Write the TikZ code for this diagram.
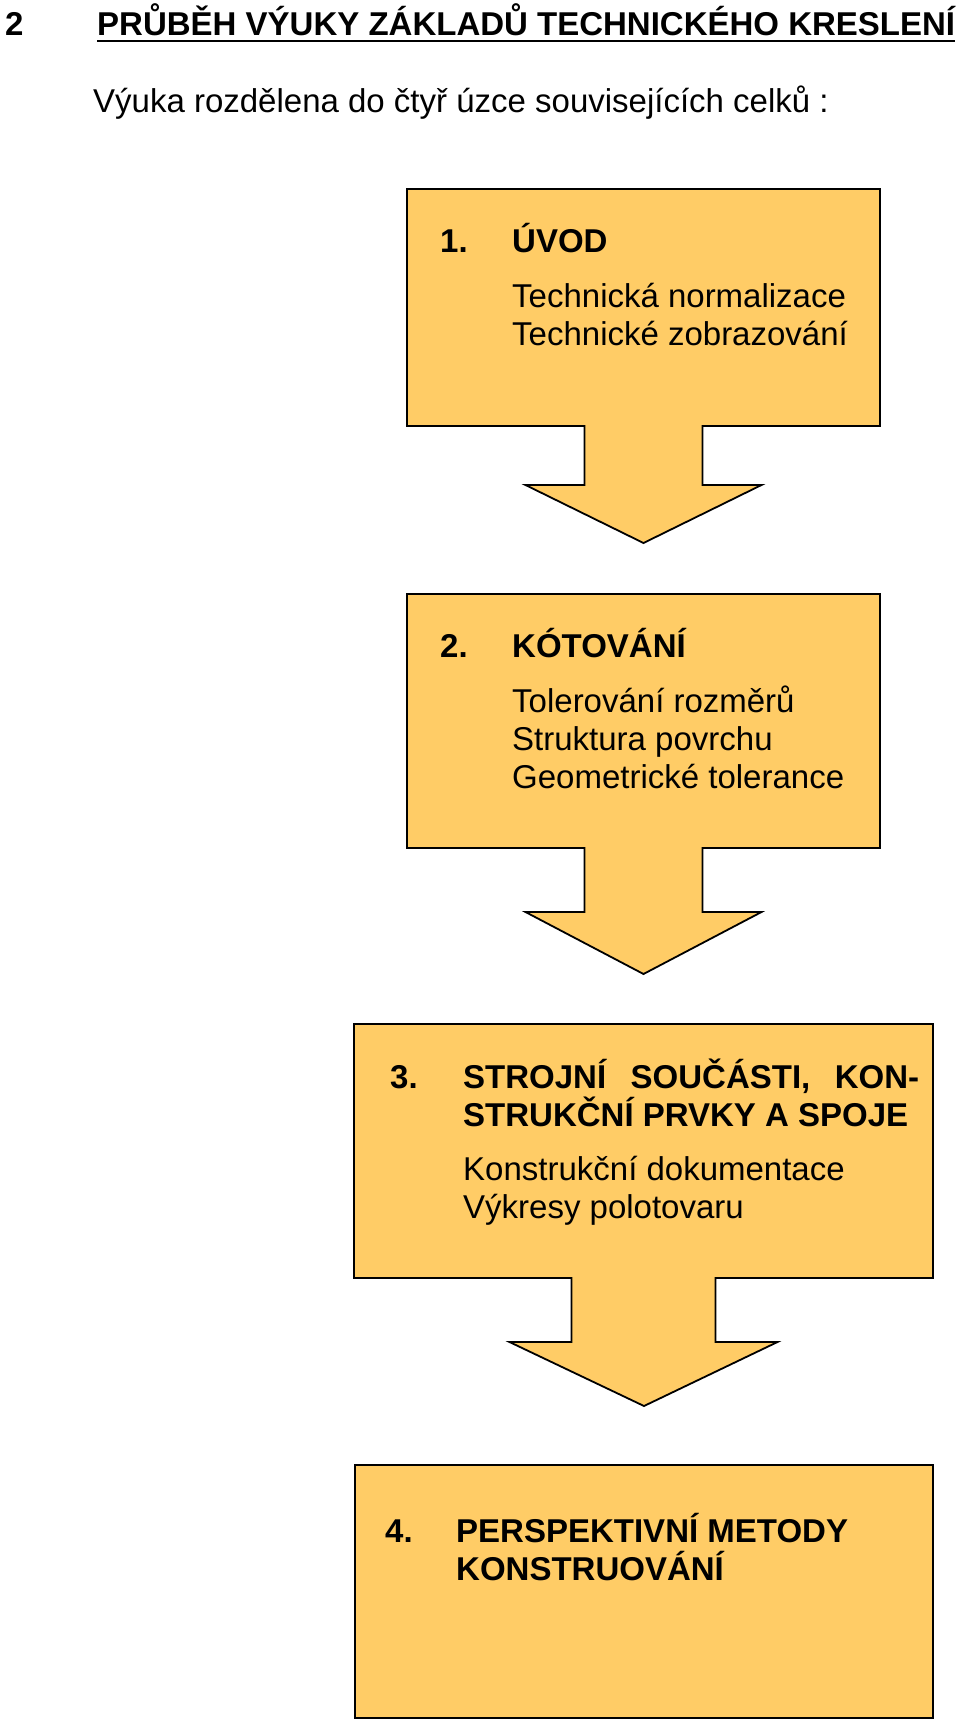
\documentclass[tikz,border=0pt]{standalone}
\usepackage{fontspec}
\setmainfont{Liberation Sans}
\usepackage{xcolor}
\usepackage{tikz}
\usetikzlibrary{arrows,shapes,positioning}
\usetikzlibrary{calc}

\definecolor{boxfill}{HTML}{FFCC66}

\begin{document}
\begin{tikzpicture}[x=1pt,y=-1pt,
		txt/.style={inner sep=0pt, anchor=base west, font=\fontsize{33}{38}\selectfont},
		hd/.style={txt, font=\fontsize{33}{38}\selectfont\bfseries},
		box/.style={draw=black, line width=1.8pt, fill=boxfill, rectangle, inner sep=0pt, outer sep=0pt},
		blockarrow/.style={draw=black, line width=1.8pt, fill=boxfill, line join=miter}]
				\useasboundingbox (0,0) rectangle (960,1725);
				
				% nadpis
				\node [hd] (chapno) at (5,35) {2};
				\node [hd] (chaptitle) at (97,35) {PRŮBĚH VÝUKY ZÁKLADŮ TECHNICKÉHO KRESLENÍ};
				\draw [line width=2.8pt] ($(chaptitle.base west)+(0,6)$) -- ($(chaptitle.base east)+(0,6)$);
				\node [txt] (intro) at (93,112) {Výuka rozdělena do čtyř úzce souvisejících celků :};
				
				% bloky
				\node [box, minimum width=473, minimum height=237] (box1) at (643.5,307.5) {};
				\node [box, minimum width=473, minimum height=254] (box2) at (643.5,721) {};
				\node [box, minimum width=579, minimum height=254] (box3) at (643.5,1151) {};
				\node [box, minimum width=578, minimum height=253] (box4) at (644,1591.5) {};
				
				\coordinate (tip1) at ($(box2.north)+(0,-51)$);
				\coordinate (tip2) at ($(box3.north)+(0,-50)$);
				\coordinate (tip3) at ($(box4.north)+(0,-59)$);
				
				% sipky
				\filldraw [blockarrow] ($(box1.south)+(-59,-1)$) -- ($(box1.south)+(-59,59)$) -- ($(box1.south)+(-118,59)$) -- (tip1) -- ($(box1.south)+(118,59)$) -- ($(box1.south)+(59,59)$) -- ($(box1.south)+(59,-1)$);
				\filldraw [blockarrow] ($(box2.south)+(-59,-1)$) -- ($(box2.south)+(-59,64)$) -- ($(box2.south)+(-118,64)$) -- (tip2) -- ($(box2.south)+(118,64)$) -- ($(box2.south)+(59,64)$) -- ($(box2.south)+(59,-1)$);
				\filldraw [blockarrow] ($(box3.south)+(-72,-1)$) -- ($(box3.south)+(-72,64)$) -- ($(box3.south)+(-134,64)$) -- (tip3) -- ($(box3.south)+(134,64)$) -- ($(box3.south)+(72,64)$) -- ($(box3.south)+(72,-1)$);
				
				% 1.
				\node [hd] (num1) at ($(box1.north west)+(33,63)$) {1.};
				\node [hd] (head1) at ($(box1.north west)+(105,63)$) {ÚVOD};
				\node [txt] (line1a) at ($(head1.base west)+(0,55)$) {Technická normalizace};
				\node [txt] (line1b) at ($(line1a.base west)+(0,38)$) {Technické zobrazování};
				
				% 2.
				\node [hd] (num2) at ($(box2.north west)+(33,63)$) {2.};
				\node [hd] (head2) at ($(box2.north west)+(105,63)$) {KÓTOVÁNÍ};
				\node [txt] (line2a) at ($(head2.base west)+(0,55)$) {Tolerování rozměrů};
				\node [txt] (line2b) at ($(line2a.base west)+(0,38)$) {Struktura povrchu};
				\node [txt] (line2c) at ($(line2b.base west)+(0,38)$) {Geometrické tolerance};
				
				% 3.
				\node [hd] (num3) at ($(box3.north west)+(36,64)$) {3.};
				\node [hd] (head3a) at ($(box3.north west)+(109,64)$) {\makebox[456pt][s]{STROJNÍ SOUČÁSTI, KON-}};
				\node [hd] (head3b) at ($(head3a.base west)+(0,38)$) {STRUKČNÍ PRVKY A SPOJE};
				\node [txt] (line3a) at ($(head3b.base west)+(0,54)$) {Konstrukční dokumentace};
				\node [txt] (line3b) at ($(line3a.base west)+(0,38)$) {Výkresy polotovaru};
				
				% 4.
				\node [hd] (num4) at ($(box4.north west)+(30,77)$) {4.};
				\node [hd] (head4a) at ($(box4.north west)+(101,77)$) {PERSPEKTIVNÍ METODY};
				\node [hd] (head4b) at ($(head4a.base west)+(0,38)$) {KONSTRUOVÁNÍ};
\end{tikzpicture}
\end{document}
